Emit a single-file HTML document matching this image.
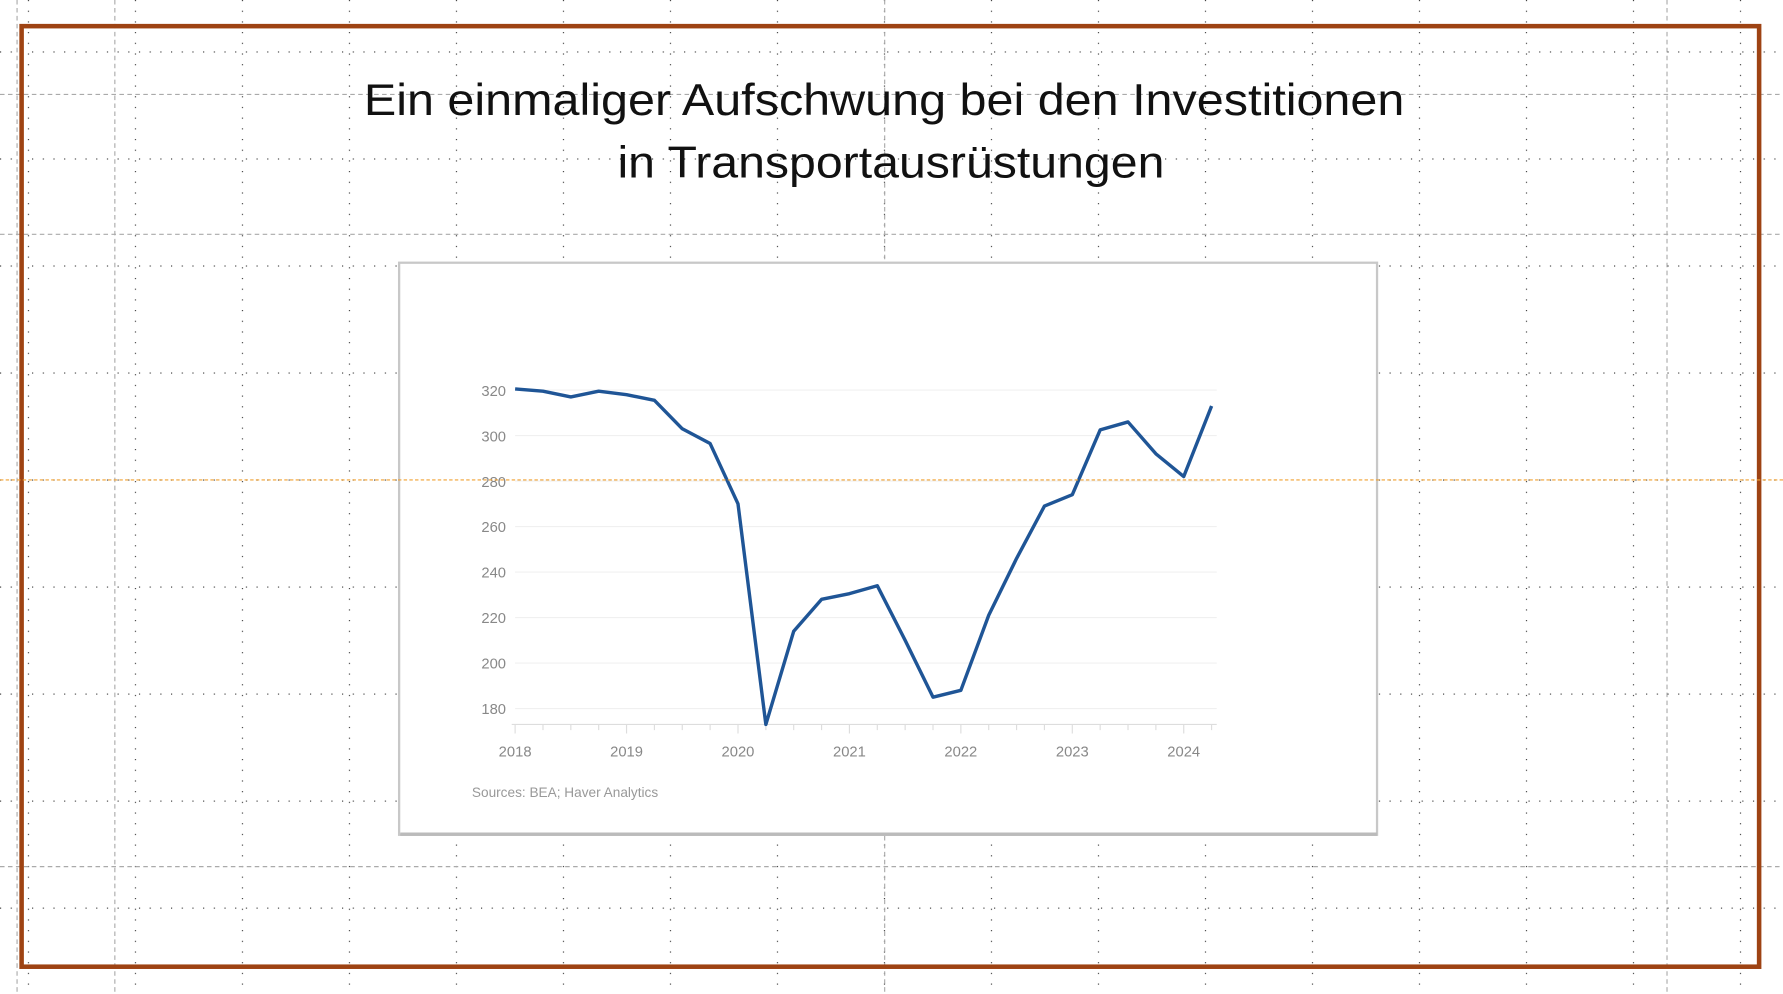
<!DOCTYPE html>
<html><head><meta charset="utf-8"><style>
html,body{margin:0;padding:0;background:#fff;width:1783px;height:994px;overflow:hidden}
svg{display:block}
</style></head><body>
<svg width="1783" height="994" viewBox="0 0 1568 874" preserveAspectRatio="none" xmlns="http://www.w3.org/2000/svg">
<defs>
<pattern id="dh" x="0" y="0" width="9.4" height="94.1" patternUnits="userSpaceOnUse">
<rect x="0" y="45.2" width="1" height="1" fill="#333"/>
</pattern>
<pattern id="dv" x="0" y="0" width="94.1" height="9.4" patternUnits="userSpaceOnUse">
<rect x="24.5" y="0" width="1" height="1" fill="#333"/>
</pattern>
</defs>
<rect width="1568" height="874" fill="#fff"/>
<rect width="1568" height="874" fill="url(#dh)"/>
<rect width="1568" height="874" fill="url(#dv)"/>
<g stroke="#aaa" stroke-width="1" stroke-dasharray="4,3" fill="none">
<line x1="15" y1="0" x2="15" y2="874"/>
<line x1="101" y1="0" x2="101" y2="874"/>
<line x1="778" y1="0" x2="778" y2="874"/>
<line x1="1466" y1="0" x2="1466" y2="874"/>
<line x1="0" y1="83" x2="1568" y2="83"/>
<line x1="0" y1="206" x2="1568" y2="206"/>
<line x1="0" y1="762" x2="1568" y2="762"/>
</g>
<rect x="19" y="23" width="1528" height="827" fill="none" stroke="#9e4313" stroke-width="4"/>
<g font-family="'Liberation Sans','DejaVu Sans',sans-serif" font-size="39" fill="#111">
<text x="320" y="101" textLength="915" lengthAdjust="spacingAndGlyphs">Ein einmaliger Aufschwung bei den Investitionen</text>
<text x="543" y="156" textLength="481" lengthAdjust="spacingAndGlyphs">in Transportausrüstungen</text>
</g>
<rect x="351" y="231" width="860" height="503" fill="#fff" stroke="#c8c8c8" stroke-width="2"/>
<rect x="352" y="732" width="859" height="3" fill="#bbb"/>
<g stroke="#f0f0f0" stroke-width="1">
<line x1="453" y1="343" x2="1070" y2="343"/>
<line x1="453" y1="383" x2="1070" y2="383"/>
<line x1="453" y1="423" x2="1070" y2="423"/>
<line x1="453" y1="463" x2="1070" y2="463"/>
<line x1="453" y1="503" x2="1070" y2="503"/>
<line x1="453" y1="543" x2="1070" y2="543"/>
<line x1="453" y1="583" x2="1070" y2="583"/>
<line x1="453" y1="623" x2="1070" y2="623"/>
</g>
<line x1="450" y1="637" x2="1070" y2="637" stroke="#ddd"/>
<g stroke="#ddd" stroke-width="1">
<path d="M453 637v8M477.5 637v5M502 637v5M526.5 637v5M551 637v8M575.5 637v5M600 637v5M624.5 637v5M649 637v8M673.5 637v5M698 637v5M722.5 637v5M747 637v8M771.5 637v5M796 637v5M820.5 637v5M845 637v8M869.5 637v5M894 637v5M918.5 637v5M943 637v8M967.5 637v5M992 637v5M1016.5 637v5M1041 637v8M1065.5 637v5"/>
</g>
<g font-family="'Liberation Sans',sans-serif" font-size="13" fill="#888" text-anchor="end">
<text x="445" y="348">320</text><text x="445" y="388">300</text><text x="445" y="428">280</text>
<text x="445" y="468">260</text><text x="445" y="508">240</text><text x="445" y="548">220</text>
<text x="445" y="588">200</text><text x="445" y="628">180</text>
</g>
<g font-family="'Liberation Sans',sans-serif" font-size="13" fill="#888" text-anchor="middle">
<text x="453" y="665">2018</text><text x="551" y="665">2019</text><text x="649" y="665">2020</text>
<text x="747" y="665">2021</text><text x="845" y="665">2022</text><text x="943" y="665">2023</text><text x="1041" y="665">2024</text>
</g>
<text x="415" y="701" font-family="'Liberation Sans',sans-serif" font-size="12" fill="#999">Sources: BEA; Haver Analytics</text>
<polyline fill="none" stroke="#1f5596" stroke-width="3" stroke-linejoin="round" points="453,342 477.5,344 502,349 526.5,344 551,347 575.5,352 600,377 624.5,390 649,443 673.5,637 698,555 722.5,527 747,522 771.5,515 796,563 820.5,613 845,607 869.5,541 894,491 918.5,445 943,435 967.5,378 992,371 1016.5,399 1041,419 1065.5,357"/>
<line x1="0" y1="422" x2="1568" y2="422" stroke="#f0a030" stroke-width="1" stroke-dasharray="3,2"/>
</svg>
</body></html>
